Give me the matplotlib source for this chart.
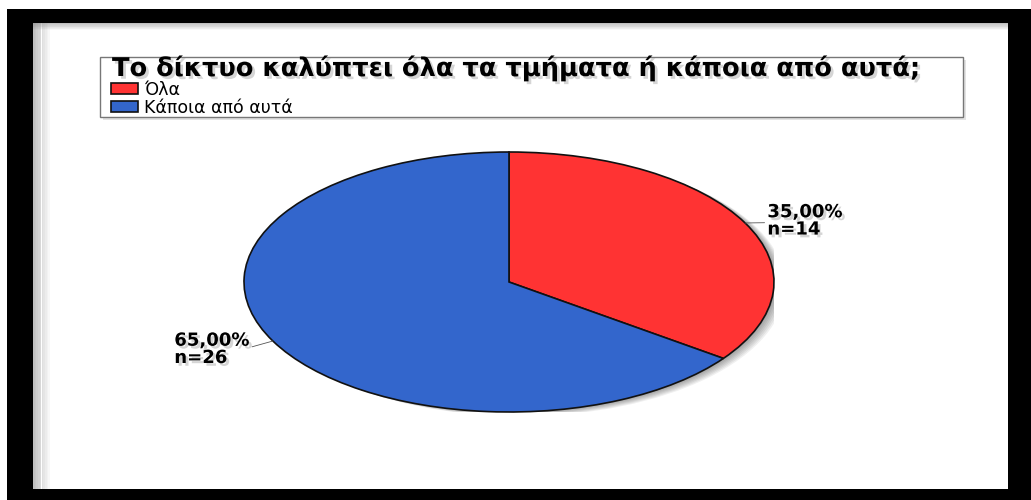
import numpy as np
import matplotlib
matplotlib.use('Agg')
import matplotlib.pyplot as plt
import matplotlib.patches as mpatches
import matplotlib.patheffects as pe
from matplotlib.transforms import ScaledTranslation

# Δεδομένα
title = 'Το δίκτυο καλύπτει όλα τα τμήματα ή κάποια από αυτά;'
categories = ['Όλα', 'Κάποια από αυτά']
counts = [14, 26]
colors = ['#FF3333', '#3366CC']

W, H = 1031, 500
plt.rcParams['font.family'] = ['DejaVu Sans']


def fx(x):
    return x / W


def fy(y):
    return 1 - y / H


fig = plt.figure(figsize=(W / 100, H / 100), dpi=100)
fig.patch.set_facecolor('white')

# μαύρο πλαίσιο γύρω από το γράφημα
frame = [(7, 9, 26, 480), (7, 9, 1024, 14), (1008, 9, 23, 491), (7, 489, 1024, 11)]
for x, y, w, h in frame:
    fig.add_artist(mpatches.Rectangle((fx(x), fy(y + h)), w / W, h / H,
                                      transform=fig.transFigure, color='black', lw=0))
# σκιά μέσα στο πλαίσιο (αριστερά και πάνω)
for i in range(10):
    a = 0.5 * (1 - i / 10)
    fig.add_artist(mpatches.Rectangle((fx(33 + i * 1.7), fy(489)), 1.7 / W, 466 / H,
                                      transform=fig.transFigure, color='gray', alpha=a, lw=0))
    fig.add_artist(mpatches.Rectangle((fx(33), fy(23 + (i + 1) * 0.7)), 975 / W, 0.7 / H,
                                      transform=fig.transFigure, color='gray', alpha=a, lw=0))

# πλαίσιο τίτλου / υπομνήματος με σκιά
fig.add_artist(mpatches.Rectangle((fx(103), fy(120)), 863 / W, 60 / H,
                                  transform=fig.transFigure, facecolor='#d8d8d8',
                                  edgecolor='none', alpha=0.7))
fig.add_artist(mpatches.Rectangle((fx(100), fy(117)), 863 / W, 60 / H,
                                  transform=fig.transFigure, facecolor='white',
                                  edgecolor='#777777', lw=1))

shadow = [pe.withSimplePatchShadow(offset=(2, -2), shadow_rgbFace='#888888', alpha=0.35)]
fig.text(fx(112), fy(76), title, fontsize=18.5, fontweight='bold', va='baseline', ha='left',
         path_effects=shadow)

# πίτα (ελλειπτική)
ax = fig.add_axes([fx(244), fy(412), 530 / W, 260 / H])
for k in range(1, 8):
    off = ScaledTranslation(k * 1.6 / 100, -k * 0.6 / 100, fig.dpi_scale_trans)
    ax.add_patch(mpatches.Ellipse((0, 0), 2, 2, transform=ax.transData + off,
                                  facecolor='black', alpha=0.06, lw=0, zorder=0))

wedges, _ = ax.pie(counts, colors=colors, startangle=90, counterclock=False, radius=1,
                   wedgeprops=dict(edgecolor='#111111', linewidth=1.2))
ax.set_aspect('auto')
ax.set_xlim(-1, 1)
ax.set_ylim(-1, 1)
ax.axis('off')

total = sum(counts)
# θέση ετικέτας (σε points) και σημείο σύνδεσης της γραμμής
label_pos = [((16, 1.5), 'left', (0, 0.45)), ((-17, -6), 'right', (1, 0.55))]
start = 90
for n, (off, ha, rel) in zip(counts, label_pos):
    span = 360 * n / total
    mid = np.deg2rad(start - span / 2)
    start -= span
    pct = f'{100 * n / total:.2f}'.replace('.', ',')
    ax.annotate(f'{pct}%\nn={n}', xy=(np.cos(mid), np.sin(mid)), xytext=off,
                textcoords='offset points', fontsize=13, fontweight='bold',
                va='center', ha=ha, multialignment='left', linespacing=0.95,
                path_effects=shadow,
                arrowprops=dict(arrowstyle='-', color='#555555', lw=0.6,
                                shrinkA=0, shrinkB=0, relpos=rel))

fig.legend(wedges, categories, loc='upper left', bbox_to_anchor=(fx(111), fy(81)),
           frameon=False, fontsize=12.5, handlelength=1.55, handleheight=0.6,
           handletextpad=0.35, labelspacing=0.0, borderpad=0, borderaxespad=0)

fig.savefig('out.png', dpi=100)
